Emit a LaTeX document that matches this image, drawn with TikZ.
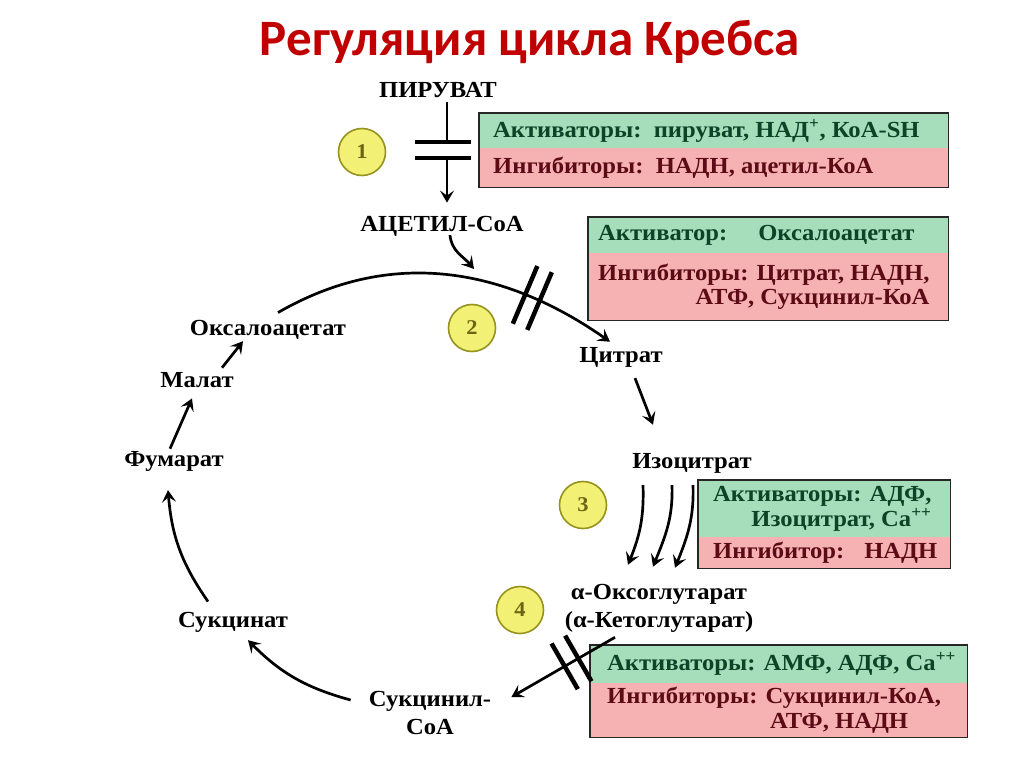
\documentclass[tikz,border=0pt]{standalone}
\usepackage{fontspec}
\setmainfont{Liberation Serif}[FakeStretch=1.07]
\newfontfamily\titlefont{Carlito}
\usetikzlibrary{arrows,arrows.meta}
\definecolor{titlered}{RGB}{192,0,0}
\definecolor{actfill}{RGB}{166,222,188}
\definecolor{inhfill}{RGB}{246,178,178}
\definecolor{acttext}{RGB}{12,68,40}
\definecolor{inhtext}{RGB}{92,10,22}
\definecolor{numfill}{RGB}{243,240,118}
\definecolor{numdraw}{RGB}{150,146,30}
\definecolor{numtext}{RGB}{110,100,20}

\begin{document}
\begin{tikzpicture}[x=1pt,y=-1pt,
	met/.style={font=\fontsize{23}{28}\selectfont\bfseries, inner sep=0pt, align=center},
	num/.style={circle, draw=numdraw, line width=1.6pt, fill=numfill, minimum size=47pt, inner sep=0pt, text=numtext, font=\fontsize{21}{22}\selectfont\bfseries},
	actbox/.style={fill=actfill, anchor=north west, inner sep=0pt},
	inhbox/.style={fill=inhfill, anchor=north west, inner sep=0pt},
	acttxt/.style={font=\fontsize{23}{25}\selectfont\bfseries, text=acttext, anchor=west, inner sep=0pt},
	inhtxt/.style={font=\fontsize{23}{24.5}\selectfont\bfseries, text=inhtext, anchor=west, inner sep=0pt},
	frame/.style={draw=black!85, line width=1.3pt},
	arr/.style={-{Stealth[length=12pt,width=14pt,inset=5pt]}, line width=2.7pt},
	bar/.style={line width=4.5pt},
	dbar/.style={sloped, minimum width=13pt, inner sep=0pt}]
	\useasboundingbox[fill=white] (0,0) rectangle (1024,767);
	\node[text=titlered, font=\titlefont\fontsize{51}{55}\selectfont\bfseries] (title) at (530,42) {Регуляция цикла Кребса};

	\node[met, anchor=base] (pyr) at (438,98) {ПИРУВАТ};
	\node[met, anchor=base] (acet) at (442,232) {АЦЕТИЛ-CoA};
	\node[met, anchor=base] (oxa) at (268,335) {Оксалоацетат};
	\node[met, anchor=base] (cit) at (621,362) {Цитрат};
	\node[met, anchor=base] (iso) at (692,468) {Изоцитрат};
	\node[met] (akg) at (659,608) {α-Оксоглутарат\\(α-Кетоглутарат)};
	\node[met] (sca) at (430,713) {Сукцинил-\\CoA};
	\node[met, anchor=base] (suc) at (233,627) {Сукцинат};
	\node[met, anchor=base] (fum) at (174,466) {Фумарат};
	\node[met, anchor=base] (mal) at (197,387) {Малат};

	\node[num] (n1) at (362,152) {1};
	\node[num] (n2) at (472,328) {2};
	\node[num] (n3) at (583,505) {3};
	\node[num] (n4) at (520,610) {4};

	\node[actbox, minimum width=469, minimum height=35] (act1) at (479,113) {};
	\node[inhbox, minimum width=469, minimum height=39] (inh1) at (479,148) {};
	\draw[frame] (act1.north west) rectangle (inh1.south east);
	\node[acttxt] (act1t) at ([xshift=14pt]act1.west) {Активаторы:\ \ пируват, НАД\textsuperscript{+}, КоА-SH};
	\node[inhtxt] (inh1t) at ([xshift=14pt]inh1.west) {Ингибиторы:\ \ НАДН, ацетил-КоА};

	\node[actbox, minimum width=360, minimum height=36] (act2) at (588,217) {};
	\node[inhbox, minimum width=360, minimum height=67] (inh2) at (588,253) {};
	\draw[frame] (act2.north west) rectangle (inh2.south east);
	\node[acttxt] (act2t) at ([xshift=10pt]act2.west) {Активатор:\hspace{31pt}Оксалоацетат};
	\node[inhtxt, align=right] (inh2t) at ([xshift=10pt]inh2.west) {Ингибиторы: Цитрат, НАДН,\\АТФ, Сукцинил-КоА};

	\node[actbox, minimum width=252, minimum height=57] (act3) at (698,480) {};
	\node[inhbox, minimum width=252, minimum height=31] (inh3) at (698,537) {};
	\draw[frame] (act3.north west) rectangle (inh3.south east);
	\node[acttxt, align=right] (act3t) at ([xshift=15pt]act3.west) {Активаторы: АДФ,\\Изоцитрат, Ca\textsuperscript{++}};
	\node[inhtxt] (inh3t) at ([xshift=15pt]inh3.west) {Ингибитор:\hspace{20pt}НАДН};

	\node[actbox, minimum width=377, minimum height=38] (act4) at (590,645) {};
	\node[inhbox, minimum width=377, minimum height=54] (inh4) at (590,683) {};
	\draw[frame] (act4.north west) rectangle (inh4.south east);
	\node[acttxt] (act4t) at ([xshift=17pt]act4.west) {Активаторы: АМФ, АДФ, Ca\textsuperscript{++}};
	\node[inhtxt, align=left] (inh4t) at ([xshift=17pt]inh4.west) {Ингибиторы: Сукцинил-КоА,\\\hspace*{163pt}АТФ, НАДН};

	\coordinate (b1up) at (447,142);
	\coordinate (b1lo) at (447,158);
	\coordinate (c2) at (474,269);
	\draw[line width=2.7pt, shorten <=4pt] (pyr.south -| b1up) -- (b1up);
	\draw[bar] ([xshift=-32pt]b1up) -- ([xshift=24pt]b1up);
	\draw[bar] ([xshift=-32pt]b1lo) -- ([xshift=24pt]b1lo);
	\draw[arr, shorten >=14pt] (b1lo) -- (b1lo |- acet.north);

	\draw[arr] ([xshift=8pt,yshift=2pt]acet.south) to[out=-85,in=130] (c2);
	\draw[arr] ([xshift=10pt,yshift=7pt]oxa.north) to[out=30,in=145] node[pos=0.76, dbar, minimum height=60pt] (bars2) {} ([xshift=-11pt,yshift=5pt]cit.north);
	\draw[bar] (bars2.north west) -- (bars2.south west);
	\draw[bar] (bars2.north east) -- (bars2.south east);
	\draw[arr] ([xshift=14pt,yshift=-11pt]cit.south) -- ([xshift=-39pt,yshift=28pt]iso.north);

	\draw[arr] ([xshift=-49pt,yshift=-12pt]iso.south) to[out=-88,in=68] ([xshift=-31pt,yshift=19pt]akg.north);
	\draw[arr] ([xshift=-20pt,yshift=-12pt]iso.south) to[out=-88,in=68] ([xshift=-6pt,yshift=17pt]akg.north);
	\draw[arr] ([xshift=1pt,yshift=-12pt]iso.south) to[out=-88,in=68] ([xshift=16pt,yshift=16pt]akg.north);

	\draw[arr] ([xshift=-44pt,yshift=-5pt]akg.south) -- node[pos=0.42, dbar, minimum height=50pt] (bars4) {} ([xshift=20pt,yshift=16pt]sca.east);
	\draw[bar] (bars4.north west) -- (bars4.south west);
	\draw[bar] (bars4.north east) -- (bars4.south east);

	\draw[arr] ([xshift=-18pt,yshift=13pt]sca.west) to[bend left=15] ([xshift=15pt,yshift=-8pt]suc.south);
	\draw[arr] ([xshift=-25pt,yshift=10pt]suc.north) to[bend left=15] ([xshift=-6pt,yshift=-19pt]fum.south);
	\draw[arr] ([xshift=-4pt,yshift=2pt]fum.north) -- ([xshift=-5pt,yshift=-11pt]mal.south);
	\draw[arr] ([xshift=25pt,yshift=4pt]mal.north) -- ([xshift=-25pt,yshift=-2pt]oxa.south);
\end{tikzpicture}
\end{document}
